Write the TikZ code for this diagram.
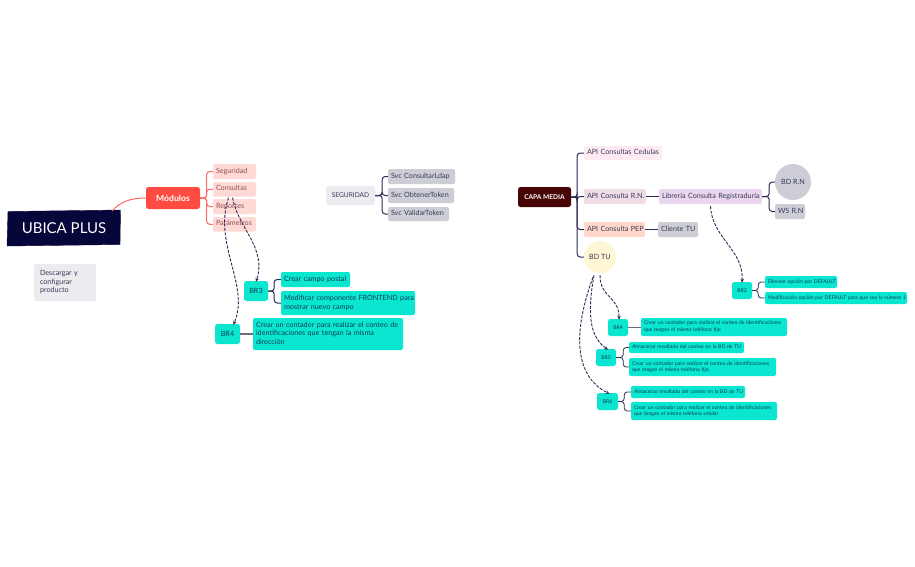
\documentclass[tikz,border=0pt]{standalone}
\usepackage{fontspec}
\setmainfont{Lato}
\usetikzlibrary{arrows.meta}
\definecolor{navy}{HTML}{2B2B55}
\definecolor{rootc}{HTML}{06063A}
\definecolor{redc}{HTML}{FF4B42}
\definecolor{redl}{HTML}{FF6A62}
\definecolor{pinkb}{HTML}{FFD9D6}
\definecolor{pinkt}{HTML}{8E4F55}
\definecolor{teal}{HTML}{0AE6D0}
\definecolor{tealt}{HTML}{0B3F58}
\definecolor{greyb}{HTML}{CDCDD5}
\definecolor{greyl}{HTML}{ECEBEF}
\definecolor{greyt}{HTML}{3A3A58}
\definecolor{ced}{HTML}{FDEAF3}
\definecolor{rnb}{HTML}{EEDDE6}
\definecolor{lib}{HTML}{EAD7EF}
\definecolor{pep}{HTML}{FFD8CB}
\definecolor{bdtu}{HTML}{FFF6D6}
\definecolor{capa}{HTML}{480505}
\tikzset{
  box/.style={rounded corners=2pt,inner xsep=3pt,inner ysep=0pt,text=greyt},
  ctr/.style={rounded corners=2.5pt,inner sep=0pt,align=center,text=greyt},
  f75/.style={font=\fontsize{7.2}{8.7}\selectfont},
  f5/.style={font=\fontsize{5.1}{6.7}\selectfont},
  pinkn/.style={box,f75,fill=pinkb,text=pinkt},
  svc/.style={box,f75,fill=greyb},
  tealn/.style={box,fill=teal,text=tealt},
  brn/.style={ctr,fill=teal,text=tealt},
  link/.style={draw=navy,line width=1pt,rounded corners=3pt},
  flat/.style={draw=greyt!75,line width=1.5pt},
  redlink/.style={draw=redl,line width=1pt,rounded corners=3pt},
  dep/.style={draw=navy,line width=0.9pt,dash pattern=on 3pt off 1.4pt,-{Stealth[length=4pt,width=3.5pt]}},
}
\newcommand{\bx}[7]{\pgfmathsetmacro{\bxw}{#4-#2-6}\pgfmathsetmacro{\bxh}{#5-#3}\node[#6,text width=\bxw pt,minimum height=\bxh pt] (#1) at ({(#2+#4)/2},{(#3+#5)/2}) {\noindent\makebox[\bxw pt][l]{\begin{tabular}{@{}l@{}}#7\end{tabular}}};}
\newcommand{\cx}[7]{\pgfmathsetmacro{\bxw}{#4-#2}\pgfmathsetmacro{\bxh}{#5-#3}\node[#6,minimum width=\bxw pt,minimum height=\bxh pt] (#1) at ({(#2+#4)/2},{(#3+#5)/2}) {#7};}
\begin{document}
\begin{tikzpicture}[x=1pt,y=-1pt]
\useasboundingbox (0,0) rectangle (915,566);
\fill[white] (0,0) rectangle (915,566);
% left map nodes
\draw[fill=rootc,draw=rootc] (8,211.5) -- (120.5,210) -- (120,244.5) -- (7,246) -- cycle;
\coordinate (rootp) at (112,211);
\node[text=white,font=\fontsize{15}{17}\selectfont,inner sep=0pt] (root) at (64,228) {UBICA PLUS};
\cx{mod}{146}{187}{200}{209}{ctr,fill=redc,text=white,font=\fontsize{8.6}{10}\selectfont\bfseries}{Módulos}
\bx{seg}{213}{164}{256}{179}{pinkn}{Seguridad}
\bx{con}{213}{182}{256}{196.5}{pinkn}{Consultas}
\bx{rep}{213}{199}{256}{214}{pinkn}{Reportes}
\bx{par}{213}{217}{256}{231.5}{pinkn}{Parámetros}
\bx{desc}{34}{264}{96}{301}{box,f75,fill=greyl}{\hspace*{3pt}Descargar y\\\hspace*{3pt}configurar\\\hspace*{3pt}producto}
\cx{sg}{326}{186}{375}{205}{ctr,fill=greyl,font=\fontsize{6.6}{8}\selectfont}{SEGURIDAD}
\bx{s1}{388}{169}{455}{184}{svc}{Svc ConsultarLdap}
\bx{s2}{388}{188}{454}{203}{svc}{Svc ObtenerToken}
\bx{s3}{388}{207}{449}{221}{svc}{Svc ValidarToken}
\cx{br3}{244}{281}{268}{301}{brn,f75}{BR3}
\bx{t1}{281}{272}{350}{287}{tealn,f75}{Crear campo postal}
\bx{t2}{281}{291}{415}{315}{tealn,f75}{Modificar componente FRONTEND para\\mostrar nuevo campo}
\cx{br4a}{215}{324}{240}{344}{brn,f75}{BR4}
\bx{t3}{253}{318}{403}{350}{tealn,f75}{Crear un contador para realizar el conteo de\\identificaciones que tengan la misma\\dirección}
% right map nodes
\cx{capan}{518}{187}{571}{207}{ctr,fill=capa,text=white,font=\fontsize{6.6}{8}\selectfont\bfseries}{CAPA MEDIA}
\bx{a1}{584}{146}{662}{160}{box,f75,fill=ced,rounded corners=1pt}{API Consultas Cedulas}
\bx{a2}{584}{189}{646}{204}{box,f75,fill=rnb}{API Consulta R.N.}
\bx{a3}{659}{189}{762}{204}{box,f75,fill=lib}{Librería Consulta Registraduría}
\node[circle,fill=greyb,minimum size=36pt,inner sep=0pt,text=greyt,f75] (bdrn) at (793,182) {BD R.N};
\bx{ws}{775}{204}{805}{219}{svc}{WS R.N}
\bx{a4}{584}{222}{645}{237}{box,f75,fill=pep}{API Consulta PEP}
\bx{cli}{658}{222}{698}{237}{svc}{Cliente TU}
\node[circle,fill=bdtu,minimum size=32pt,inner sep=0pt,text=greyt,f75] (bdtun) at (600,257) {BD TU};
\cx{br2}{732}{282}{752}{299}{brn,f5}{BR2}
\bx{e1}{765}{276}{837}{288}{tealn,f5}{Eliminar opción por DEFAULT}
\bx{e2}{765}{292}{907}{304}{tealn,f5}{Modificación opción por DEFAULT para que sea la número 1}
\cx{br4b}{608}{319}{628}{336}{brn,f5}{BR4}
\bx{u1}{641}{318}{787}{336}{tealn,f5}{Crear un contador para realizar el conteo de identificaciones\\que tengan el mismo teléfono fijo}
\cx{br5}{596}{349}{616}{366}{brn,f5}{BR5}
\bx{v1}{629}{342}{744}{353}{tealn,f5}{Almacenar resultado del conteo en la BD de TU}
\bx{v2}{629}{358}{776}{376}{tealn,f5}{Crear un contador para realizar el conteo de identificaciones\\que tengan el mismo teléfono fijo}
\cx{br6}{597}{393}{618}{410}{brn,f5}{BR6}
\bx{w1}{631}{386}{745}{398}{tealn,f5}{Almacenar resultado del conteo en la BD de TU}
\bx{w2}{631}{402}{777}{420}{tealn,f5}{Crear un contador para realizar el conteo de identificaciones\\que tengan el mismo teléfono celular}
% solid connectors
\draw[draw=redl,line width=1pt] (rootp) .. controls (120,202) and (130,198) .. (mod.west);
\foreach \c in {seg,con,rep,par}{\draw[redlink] (mod.east) -- ++(6.5,0) |- (\c.west);}
\foreach \c in {s1,s2,s3}{\draw[link] (sg.east) -- ++(7,0) |- (\c.west);}
\foreach \c in {t1,t2}{\draw[link] (br3.east) -- ++(6,0) |- (\c.west);}
\draw[flat] (br4a.east) -- (br4a.east -| t3.west);
\foreach \c in {a1,a2,a4,bdtun}{\draw[link] (capan.east) -- ++(6,0) |- (\c.west);}
\draw[link] (a2.east) -- (a3.west);
\draw[link] (a4.east) -- (a4.east -| cli.west);
\foreach \c in {bdrn,ws}{\draw[link] (a3.east) -- ++(7,0) |- (\c.west);}
\foreach \c in {e1,e2}{\draw[link,line width=.8pt] (br2.east) -- ++(6,0) |- (\c.west);}
\draw[flat] (br4b.east) -- (br4b.east -| u1.west);
\foreach \c in {v1,v2}{\draw[link,line width=.8pt] (br5.east) -- ++(7,0) |- (\c.west);}
\foreach \c in {w1,w2}{\draw[link,line width=.8pt] (br6.east) -- ++(6,0) |- (\c.west);}
% dashed dependencies
\draw[dep] ([xshift=-2pt,yshift=-1pt]con.south) .. controls (238,228) and (267,248) .. ([yshift=-1pt]br3.north);
\draw[dep] ([xshift=-6pt,yshift=-1pt]con.south) .. controls (213,245) and (250,285) .. ([xshift=6pt,yshift=-1pt]br4a.north);
\draw[dep] ([xshift=0pt,yshift=-2pt]a3.south) .. controls (712,238) and (744,250) .. ([yshift=-1pt]br2.north);
\draw[dep] ([yshift=-2pt]bdtun.south) .. controls (600,298) and (619,296) .. ([xshift=1pt,yshift=-1pt]br4b.north);
\draw[dep] ([xshift=-6pt,yshift=-2pt]bdtun.south) .. controls (586,320) and (592,338) .. ([xshift=2pt,yshift=-1pt]br5.north);
\draw[dep] ([xshift=-7pt,yshift=-4pt]bdtun.south) .. controls (570,340) and (578,378) .. ([xshift=2pt,yshift=-1pt]br6.north);
\end{tikzpicture}
\end{document}
